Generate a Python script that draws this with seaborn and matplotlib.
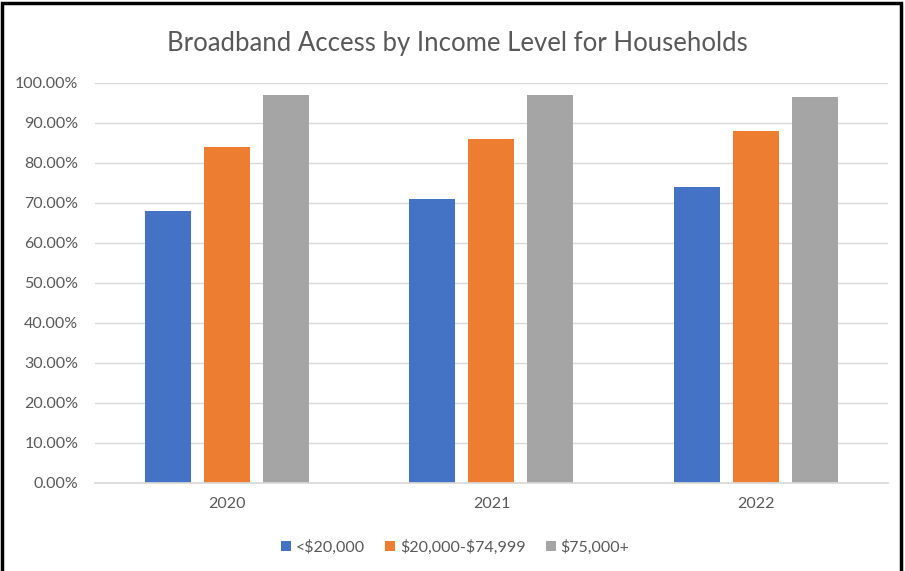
import pandas as pd
import matplotlib.pyplot as plt
import matplotlib.ticker as mtick
from matplotlib.patches import Rectangle
import seaborn as sns

sns.set_theme(style="white")
plt.rcParams['font.family'] = ['Lato', 'DejaVu Sans']
plt.rcParams['text.parse_math'] = False

years = ["2020", "2021", "2022"]
groups = ["<$20,000", "$20,000-$74,999", "$75,000+"]
under_20k = [68.0, 71.0, 74.0]
mid_20k_75k = [84.0, 86.0, 88.0]
over_75k = [97.0, 96.9, 96.5]
colors = ["#4472C4", "#ED7D31", "#A5A5A5"]

rows = []
for g, vals in zip(groups, [under_20k, mid_20k_75k, over_75k]):
    for y, v in zip(years, vals):
        rows.append({"year": y, "group": g, "value": v / 100})
df = pd.DataFrame(rows)

fig = plt.figure(figsize=(9.05, 5.71), dpi=100)
ax = fig.add_axes([0.105, 0.1546, 0.876, 0.7004])

sns.barplot(data=df, x="year", y="value", hue="group", order=years,
            hue_order=groups, palette=colors, width=0.67, gap=0.22,
            saturation=1, linewidth=0, ax=ax)

ax.set_ylim(0, 1.0)
ax.set_xlim(-0.5, 2.5)
ax.set_yticks([i / 10 for i in range(11)])
ax.yaxis.set_major_formatter(mtick.PercentFormatter(1.0, decimals=2))
ax.grid(axis="y", color="#d9d9d9", linewidth=1)
ax.set_axisbelow(True)
for s in ["top", "right", "left"]:
    ax.spines[s].set_visible(False)
ax.spines["bottom"].set_color("#d9d9d9")
ax.tick_params(axis="both", length=0, colors="#595959", labelsize=11.5)
ax.tick_params(axis="x", pad=10)
ax.tick_params(axis="y", pad=12)
ax.set_xlabel("")
ax.set_ylabel("")

fig.suptitle("Broadband Access by Income Level for Households", x=0.505, y=0.945,
             fontsize=18.5, color="#595959")

handles, labels = ax.get_legend_handles_labels()
ax.legend_.remove()
fig.legend(handles, labels, loc="center", bbox_to_anchor=(0.503, 0.042), ncol=3,
           frameon=False, fontsize=11.5, labelcolor="#595959", handlelength=0.6,
           handleheight=0.6, handletextpad=0.3, columnspacing=1.3)

fig.add_artist(Rectangle((0.002, -0.01), 0.994, 1.005, transform=fig.transFigure,
                         fill=False, edgecolor="black", linewidth=2.5))

fig.savefig("out.png", dpi=100)
